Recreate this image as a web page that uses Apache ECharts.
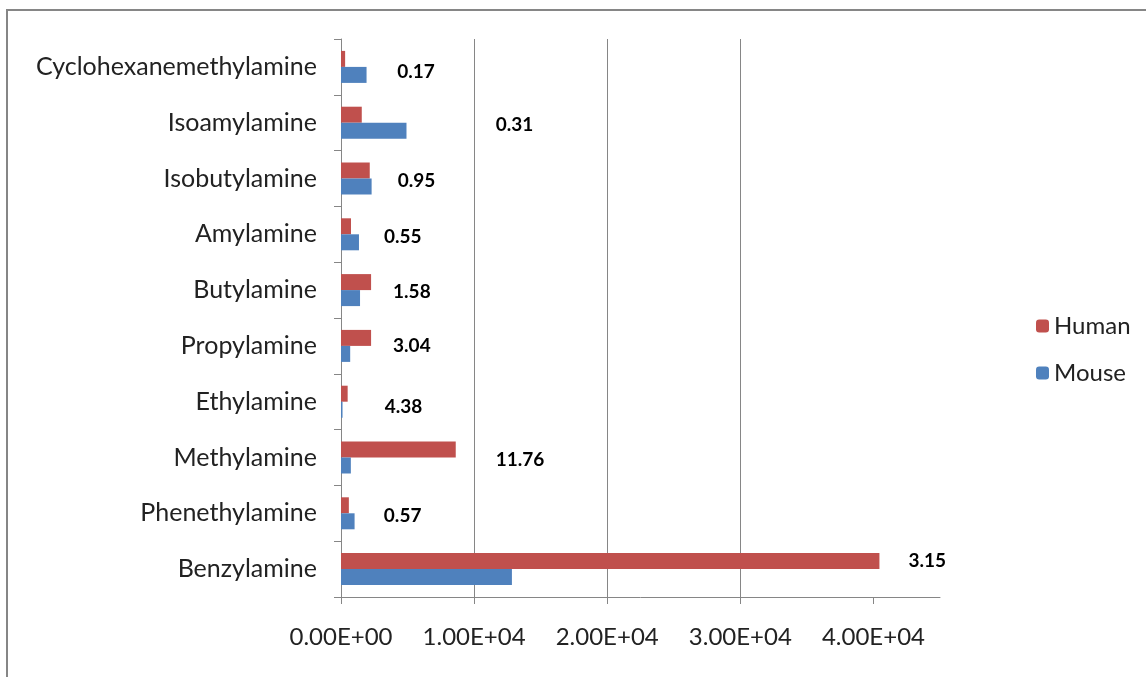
<!DOCTYPE html>
<html>
<head>
<meta charset="utf-8">
<script src="https://cdn.jsdelivr.net/npm/echarts@6/dist/echarts.min.js"></script>
<style>
  html, body { margin: 0; padding: 0; background: #fff; }
  #chart { width: 1146px; height: 677px; }
</style>
</head>
<body>
<div id="chart"></div>
<script>
// categories listed bottom to top
const categories = ["Benzylamine", "Phenethylamine", "Methylamine", "Ethylamine", "Propylamine",
  "Butylamine", "Amylamine", "Isobutylamine", "Isoamylamine", "Cyclohexanemethylamine"];
const humanValues = [40450, 590, 8620, 500, 2260, 2260, 750, 2160, 1560, 310];
const mouseValues = [12840, 1020, 740, 115, 690, 1430, 1350, 2300, 4920, 1920];
const ratioLabels = ["3.15", "0.57", "11.76", "4.38", "3.04", "1.58", "0.55", "0.95", "0.31", "0.17"];
const xTicks = [0, 10000, 20000, 30000, 40000];

// where the ratio labels were dragged to, relative to the end of each Human bar
const labelShift = [[29, 0], [35, 11], [40, 10], [37, 13], [22, 8], [22, 10], [33, 11], [28, 10], [134, 10], [52, 13]];

function sci(v) {
  const parts = v.toExponential(2).split("e");
  let e = parseInt(parts[1], 10);
  const sign = e < 0 ? "-" : "+";
  e = Math.abs(e);
  return parts[0] + "E" + sign + (e < 10 ? "0" + e : e);
}

const chart = echarts.init(document.getElementById("chart"));
const gray = "#868686";
const font = "Lato, 'Open Sans', sans-serif";

chart.setOption({
  animation: false,
  textStyle: { fontFamily: font },
  graphic: [{
    type: "rect",
    shape: { x: 7, y: 10, width: 1160, height: 700 },
    style: { fill: "none", stroke: gray, lineWidth: 2 }
  }],
  legend: {
    data: ["Human", "Mouse"],
    orient: "vertical",
    left: 1031,
    top: 309,
    itemWidth: 13,
    itemHeight: 13,
    itemGap: 23,
    textStyle: { fontSize: 24, color: "#222", fontFamily: font }
  },
  grid: { left: 341, right: 206, top: 39, bottom: 80 },
  xAxis: {
    type: "value",
    min: 0,
    max: 45000,
    interval: 10000,
    axisLine: { show: true, lineStyle: { color: gray } },
    axisTick: { show: true, length: 7, inside: false, customValues: xTicks, lineStyle: { color: gray } },
    axisLabel: {
      customValues: xTicks,
      formatter: sci,
      fontSize: 24,
      color: "#222",
      margin: 28,
      fontFamily: font
    },
    splitLine: { show: true, showMinLine: false, showMaxLine: false, lineStyle: { color: gray, width: 1 } }
  },
  yAxis: {
    type: "category",
    data: categories,
    axisLine: { show: true, lineStyle: { color: gray } },
    axisTick: { show: true, length: 7, lineStyle: { color: gray } },
    axisLabel: { fontSize: 25, color: "#222", margin: 24, fontFamily: font }
  },
  series: [
    {
      name: "Human",
      type: "bar",
      data: humanValues.map((v, i) => ({
        value: v,
        label: { offset: labelShift[i] }
      })),
      barWidth: 16,
      barGap: "0%",
      barCategoryGap: "43%",
      itemStyle: { color: "#C0504D" },
      label: {
        show: true,
        position: "right",
        distance: 0,
        formatter: p => ratioLabels[p.dataIndex],
        fontSize: 19,
        fontWeight: "bold",
        color: "#000",
        fontFamily: font
      }
    },
    {
      name: "Mouse",
      type: "bar",
      data: mouseValues,
      barWidth: 16,
      barGap: "0%",
      itemStyle: { color: "#4F81BD" }
    }
  ]
});
</script>
</body>
</html>
